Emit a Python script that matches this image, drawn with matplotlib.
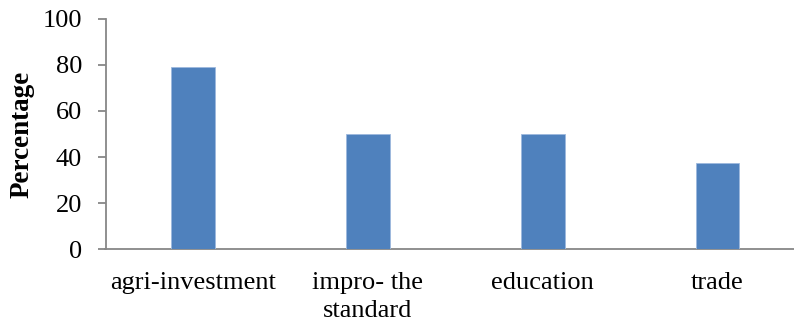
import matplotlib
matplotlib.use("Agg")
import matplotlib.pyplot as plt

categories = ["agri-investment", "impro- the\nstandard", "education", "trade"]
values = [79, 50, 50, 37.5]
yticks = [0, 20, 40, 60, 80, 100]

plt.rcParams['font.family'] = ['Liberation Serif', 'DejaVu Serif']

W, H = 794, 324
fig = plt.figure(figsize=(W/100, H/100), dpi=100)
left, right = 105.5, 805.0
top, bottom = 18.7, 249.3
ax = fig.add_axes([left/W, 1-bottom/H, (right-left)/W, (bottom-top)/H])

x = range(len(categories))
ax.bar(x, values, width=0.25, color="#4F81BD", edgecolor="#9DB9DD", linewidth=0.6, zorder=3)
ax.set_xlim(-0.5, len(categories)-0.5)
ax.set_ylim(0, 100)
ax.set_yticks(yticks)
ax.set_yticklabels([str(v) for v in yticks])
ax.set_xticks(list(x))
ax.set_xticklabels(categories, linespacing=1.38)

for s in ["top", "right"]:
    ax.spines[s].set_visible(False)
for s in ["left", "bottom"]:
    ax.spines[s].set_color("#878787")
    ax.spines[s].set_linewidth(1.3)

ax.tick_params(axis='y', direction='out', length=5.8, width=1.3, color="#878787",
               labelsize=19, pad=11, labelcolor="black")
ax.tick_params(axis='x', length=0, labelsize=19, pad=16, labelcolor="black")

fig.text(22.5/W, 1-134/H, "Percentage", rotation=90, ha='center', va='center',
         fontsize=19.5, fontweight='bold')

fig.savefig("out.png", dpi=100)
